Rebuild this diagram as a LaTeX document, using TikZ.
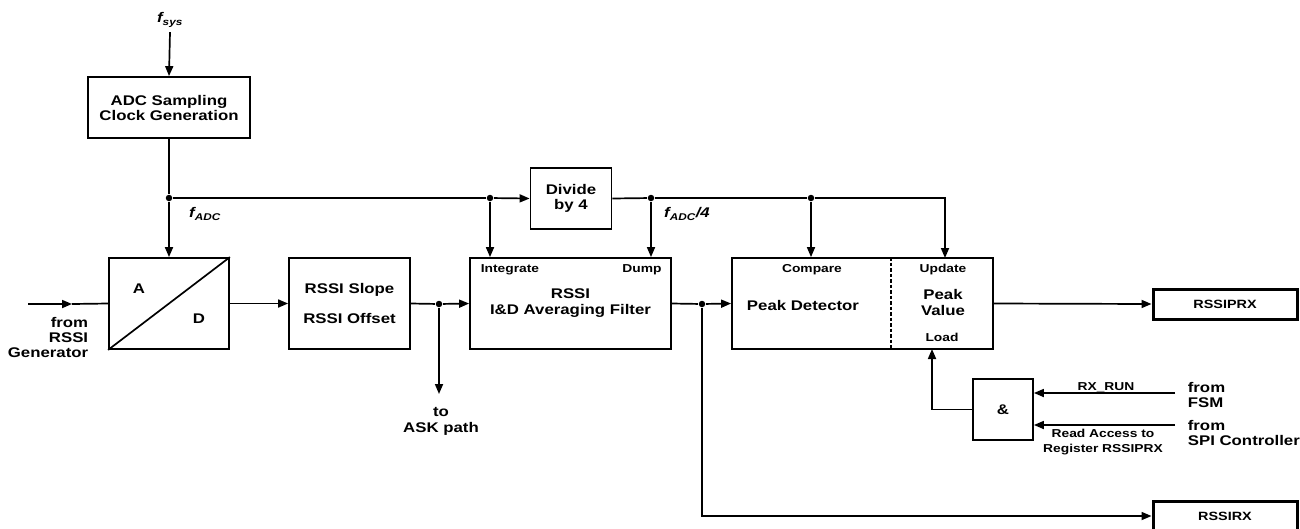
\documentclass[tikz,border=0pt]{standalone}
\usepackage{fontspec}
\setmainfont{Liberation Sans}[FakeStretch=1.2]
\usetikzlibrary{arrows.meta}

\tikzset{
  blk/.style = {draw, line width=1.8pt, inner sep=0pt, align=center,
                font=\bfseries\fontsize{14}{15}\selectfont},
  reg/.style = {blk, line width=3pt, font=\bfseries\fontsize{12}{14}\selectfont},
  txt/.style = {inner sep=0pt, align=center, font=\bfseries\fontsize{14}{15}\selectfont},
  sml/.style = {inner sep=0pt, align=center, font=\bfseries\fontsize{11.5}{15}\selectfont},
  frq/.style = {inner sep=0pt, font=\bfseries\itshape\fontsize{14}{15}\selectfont},
  arr/.style = {-{Triangle[length=10pt,width=8pt]}},
  dot/.style = {circle, fill, inner sep=0pt, minimum size=6.5pt},
}

\begin{document}
\begin{tikzpicture}[x = 1pt, y = -1pt, line width=1.7pt]
\useasboundingbox (0,0) rectangle (1300,528);

% blocks
\node[blk, minimum width=162pt, minimum height=61pt] (CLK) at (169,107.5) {ADC Sampling\\Clock Generation};
\node[blk, minimum width=120pt, minimum height=91pt] (ADC) at (169,303.5) {};
\node[blk, minimum width=121pt, minimum height=91pt, font=\bfseries\fontsize{14}{30}\selectfont] (SLP) at (349.5,303.5) {RSSI Slope\\RSSI Offset};
\node[blk, minimum width=201pt, minimum height=91pt, font=\bfseries\fontsize{14}{16}\selectfont] (IAD) at (570.5,303.5) {RSSI\\I\&D Averaging Filter};
\node[blk, minimum width=81pt, minimum height=61pt] (DIV) at (571,198.5) {Divide\\by 4};
\node[blk, minimum width=261pt, minimum height=91pt] (PK) at (862.5,303.5) {};
\node[blk, minimum width=60pt, minimum height=61pt] (AND) at (1003,409.5) {\&};
\node[reg, minimum width=144pt, minimum height=30pt] (PRX) at (1225,304) {RSSIPRX};
\node[reg, minimum width=144pt, minimum height=30pt] (RX) at (1225,516) {RSSIRX};

% text inside blocks
\draw (ADC.south west) -- (ADC.north east);
\node[txt] (A) at (139,289) {A};
\node[txt] (D) at (199,319) {D};
\node[sml] (INT) at (510,270) {Integrate};
\node[sml] (DMP) at (642,270) {Dump};
\draw[line width=2.2pt, dash pattern=on 3.5pt off 2pt] ([xshift=160pt]PK.north west) -- ([xshift=160pt]PK.south west);
\node[sml] (CMP) at (812,270) {Compare};
\node[txt] (PKD) at (803,305) {Peak Detector};
\node[sml] (UPD) at (943,270) {Update};
\node[txt, font=\bfseries\fontsize{14}{16}\selectfont] (PKV) at (943,302) {Peak\\Value};
\node[sml] (LD) at (942,337) {Load};

% junctions and free ends
\node[dot] (J1) at (169,198) {};
\node[dot] (J2) at (490,198) {};
\node[dot] (J3) at (651,198) {};
\node[dot] (J4) at (811,198) {};
\node[dot] (J5) at (439,304) {};
\node[dot] (J6) at (702,304) {};
\coordinate (UPIN) at (945,258);
\coordinate (LDIN) at (932,349);
\coordinate (IN) at (28,304);
\coordinate (INMID) at (72,304);
\coordinate (ASK) at (439,394);
\coordinate (FSM) at (1175,393);
\coordinate (SPI) at (1175,425);

% labels
\node[frq] (FSYS) at (170,20) {f\textsubscript{sys}};
\node[frq] (FADC) at (205,214) {f\textsubscript{ADC}};
\node[frq] (FADC4) at (687,214) {f\textsubscript{ADC}/4};
\node[txt, anchor=east, align=right] (GEN) at (89,337) {from\\RSSI\\Generator};
\node[txt, font=\bfseries\fontsize{14}{16}\selectfont] (ASKL) at (441,421) {to\\ASK path};
\node[sml] (RUN) at (1106,387) {RX\_RUN};
\node[sml] (RAC) at (1103,442) {Read Access to\\Register RSSIPRX};
\node[txt, anchor=west, align=left] (FFSM) at (1187,395) {from\\FSM};
\node[txt, anchor=west, align=left] (FSPI) at (1187,433) {from\\SPI Controller};

% clock paths
\draw[arr] (FSYS.south) ++(0,4) -- (CLK.north);
\draw (CLK.south) -- (J1);
\draw[arr] (J1) -- (ADC.north);
\draw (J1) -- (J2);
\draw[arr] (J2) -- (DIV.west);
\draw[arr] (J2) -- (J2 |- IAD.north);
\draw (DIV.east) -- (J3) -- (J4);
\draw[arr] (J3) -- (J3 |- IAD.north);
\draw[arr] (J4) -- (J4 |- PK.north);
\draw[arr] (J4) -| (UPIN);

% data paths
\draw[arr] (IN) -- (INMID);
\draw (INMID) -- (ADC.west);
\draw[arr] (ADC.east) -- (SLP.west);
\draw (SLP.east) -- (J5);
\draw[arr] (J5) -- (IAD.west);
\draw[arr] (J5) -- (ASK);
\draw (IAD.east) -- (J6);
\draw[arr] (J6) -- (PK.west);
\draw[arr] (J6) |- (RX.west);
\draw[arr] (PK.east) -- (PRX.west);

% load logic
\draw[arr] (AND.west) -| (LDIN);
\draw[arr] (FSM) -- (FSM -| AND.east);
\draw[arr] (SPI) -- (SPI -| AND.east);
\end{tikzpicture}
\end{document}
